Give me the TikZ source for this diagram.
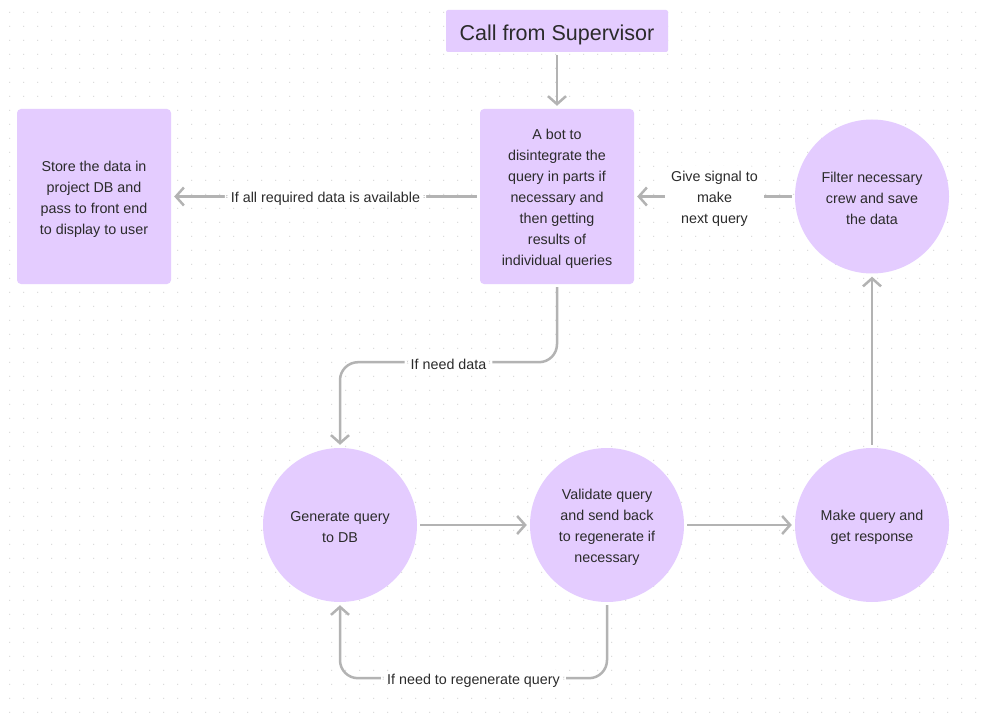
\documentclass[tikz,border=0pt]{standalone}
\usepackage{fontspec}
\setmainfont{Liberation Sans}
\usetikzlibrary{arrows.meta}
\definecolor{lavender}{HTML}{E4CCFF}
\definecolor{inkgray}{HTML}{2B2B2B}
\definecolor{arrowgray}{HTML}{B3B3B3}
\definecolor{dotgray}{HTML}{D9D9D9}
\newcommand{\topgap}{\rule{0pt}{15pt}}
\tikzset{
  box/.style={fill=lavender, rounded corners=4pt, align=center, text=inkgray,
    font=\fontsize{14.3}{21}\selectfont, minimum width=154pt, minimum height=175pt, inner sep=0pt},
  circ/.style={circle, fill=lavender, align=center, text=inkgray,
    font=\fontsize{14.3}{21}\selectfont, minimum size=154pt, inner sep=0pt},
  lbl/.style={fill=white, align=center, text=inkgray, font=\fontsize{14.3}{21}\selectfont,
    inner xsep=6pt, inner ysep=1pt},
  arr/.style={draw=arrowgray, line width=2.5pt, -{Straight Barb[length=8pt,width=18pt]},
    shorten >=3pt, shorten <=3pt, rounded corners=18pt}
}
\begin{document}
\begin{tikzpicture}[x=1pt, y=-1pt]
    \useasboundingbox (0,0) rectangle (982,719);
    \fill[white] (0,0) rectangle (982,719);
    \foreach \i in {0,...,69} {
      \foreach \j in {0,...,50} {
        \fill[dotgray] (9.7+14*\i, 12.3+14*\j) circle (0.7pt);
      }
    }
    \node[box, minimum width=222pt, minimum height=42pt, rounded corners=2pt,
      font=\fontsize{21.5}{26}\selectfont] (sup) at (557, 31) {\rule{0pt}{23pt}Call from Supervisor};
    \node[box] (bot) at (557, 196.5) {\topgap A bot to\\ disintegrate the\\ query in parts if\\ necessary and\\ then getting\\ results of\\ individual queries};
    \node[box] (store) at (94, 196.5) {\topgap Store the data in\\ project DB and\\ pass to front end\\ to display to user};
    \node[circ] (filter) at (872, 196.5) {\topgap Filter necessary\\ crew and save\\ the data};
    \node[circ] (gen) at (340, 525) {\topgap Generate query\\ to DB};
    \node[circ] (valid) at (607, 525) {\topgap Validate query\\ and send back\\ to regenerate if\\ necessary};
    \node[circ] (make) at (872, 525) {\topgap Make query and\\ get response};
    \draw [arr] (sup) to (bot);
    \draw [arr] (bot) to node[lbl] {\topgap If all required data is available} (store);
    \draw [arr] (filter) to node[lbl] {\topgap Give signal to\\ make\\ next query} (bot);
    \draw [arr] (bot.south) -- ++(0, 78) -| node[lbl, pos=0.25] {\topgap If need data} (gen.north);
    \draw [arr] (gen) to (valid);
    \draw [arr] (valid) to (make);
    \draw [arr] (make) to (filter);
    \draw [arr] (valid.south) -- ++(0, 76) -| node[lbl, pos=0.25] {\topgap If need to regenerate query} (gen.south);
  \end{tikzpicture}
\end{document}
